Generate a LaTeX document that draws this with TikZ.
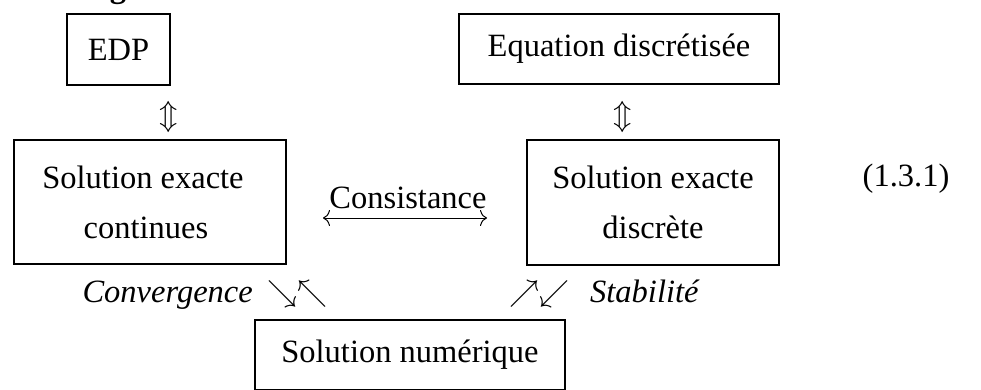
\RequirePackage{fix-cm}
\documentclass[tikz,border=0pt]{standalone}
\usepackage{fontspec}
\setmainfont{Liberation Serif}
\usetikzlibrary{arrows.meta}
\begin{document}
\begin{tikzpicture}[x=1pt,y=-1pt,
  txt/.style={font=\fontsize{32.5}{38}\selectfont, inner sep=0pt},
  itxt/.style={font=\fontsize{32.5}{38}\selectfont\itshape, inner sep=0pt},
  boxed/.style={draw, line width=1.1pt, inner sep=0pt, font=\fontsize{32.5}{50}\selectfont, align=center},
  glyph/.style={font=\fontsize{30}{36}\selectfont, inner sep=0pt},
  consarrow/.style={line width=1pt, {To[length=7pt,width=16pt]}-{To[length=7pt,width=16pt]}},
  ]
\useasboundingbox (0,0) rectangle (981,389);
\node[txt, font=\fontsize{32.5}{38}\selectfont\bfseries, anchor=base] (g) at (118,-3) {g};
\node[boxed, minimum width=103pt, minimum height=71pt] (edp) at (118.5,49.5) {EDP};
\node[boxed, minimum width=320pt, minimum height=70pt] (eqd) at (619,49) {Equation discrétisée};
\node[glyph] (ud1) at (169,117) {$\Updownarrow$};
\node[glyph] (ud2) at (623,117) {$\Updownarrow$};
\node[boxed, minimum width=272pt, minimum height=124pt] (sec) at (150,202) {Solution exacte\hspace*{14pt}\\continues\hspace*{8pt}};
\node[boxed, minimum width=252pt, minimum height=125pt] (sed) at (653,202.5) {Solution exacte\\discrète};
\node[txt, anchor=base] (cons) at (408,208) {Consistance};
\coordinate (cl) at (323,218);
\coordinate (cr) at (487,218);
\draw[consarrow] (cl) -- (cr);
\node[txt, anchor=base] (eqn) at (906,186) {(1.3.1)};
\node[itxt, anchor=base east] (conv) at (253,302) {Convergence};
\node[glyph] (ar1) at (297,294) {$\searrow\nwarrow$};
\node[glyph] (ar2) at (539,294) {$\nearrow\swarrow$};
\node[itxt, anchor=base west] (stab) at (590,302) {Stabilité};
\node[boxed, minimum width=310pt, minimum height=70pt] (num) at (410,355) {Solution numérique};
\end{tikzpicture}
\end{document}
